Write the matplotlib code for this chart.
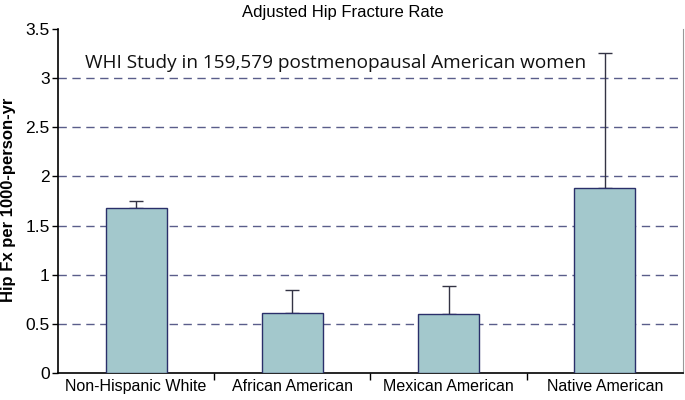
import matplotlib
matplotlib.use('Agg')
import matplotlib.pyplot as plt

# Adjusted hip fracture rate by group (WHI)
groups = ['Non-Hispanic White', 'African American', 'Mexican American', 'Native American']
rates = [1.68, 0.61, 0.60, 1.88]
upper_err = [0.07, 0.23, 0.29, 1.38]
y_ticks = [0, 0.5, 1, 1.5, 2, 2.5, 3, 3.5]
y_tick_labels = ['0', '0.5', '1', '1.5', '2', '2.5', '3', '3.5']

plt.rcParams['font.family'] = ['Liberation Sans', 'DejaVu Sans']

fig = plt.figure(figsize=(6.85, 4.0), dpi=100)
ax = fig.add_axes([0.0847, 0.0675, 0.9123, 0.86])

x = range(len(groups))
ax.bar(x, rates, width=0.39, color='#a3c8cc', edgecolor='#2a2f6a', linewidth=1.0, zorder=3)
ax.errorbar(x, rates, yerr=[[0] * len(rates), upper_err], fmt='none',
            ecolor='#333344', elinewidth=1.0, capsize=5, capthick=1.0, zorder=2)

ax.set_xlim(-0.5, len(groups) - 0.5)
ax.set_ylim(0, 3.5)
ax.set_yticks(y_ticks)
ax.set_yticklabels(y_tick_labels, fontsize=12.5)
ax.set_xticks(x)
ax.set_xticklabels(groups, fontsize=11.5)
ax.tick_params(axis='x', length=0, pad=4)
ax.set_xticks([0.5, 1.5, 2.5], minor=True)
ax.tick_params(axis='x', which='minor', length=5, direction='out', width=1)
ax.tick_params(axis='y', length=4, direction='out', width=1, pad=2)

for v in y_ticks[1:-1]:
    ax.axhline(v, color='#5a5d8a', linestyle=(0, (6, 4)), linewidth=1.0, zorder=1)

ax.spines['top'].set_visible(False)
ax.spines['right'].set_color('#999999')
ax.spines['left'].set_linewidth(1.2)
ax.spines['bottom'].set_linewidth(1.2)

# y label placed by hand, close to the left edge like the original
fig.text(0.012, 0.5, 'Hip Fx per 1000-person-yr', rotation=90, ha='center', va='center',
         fontsize=12, fontweight='bold')

fig.text(0.5, 0.97, 'Adjusted Hip Fracture Rate', ha='center', va='center', fontsize=12)
ax.text(0.043, 0.9, 'WHI Study in 159,579 postmenopausal American women',
        transform=ax.transAxes, fontsize=13.7, family=['Open Sans', 'DejaVu Sans'],
        va='center', ha='left', color='#111111')

plt.savefig('out.png', dpi=100)
plt.close()
